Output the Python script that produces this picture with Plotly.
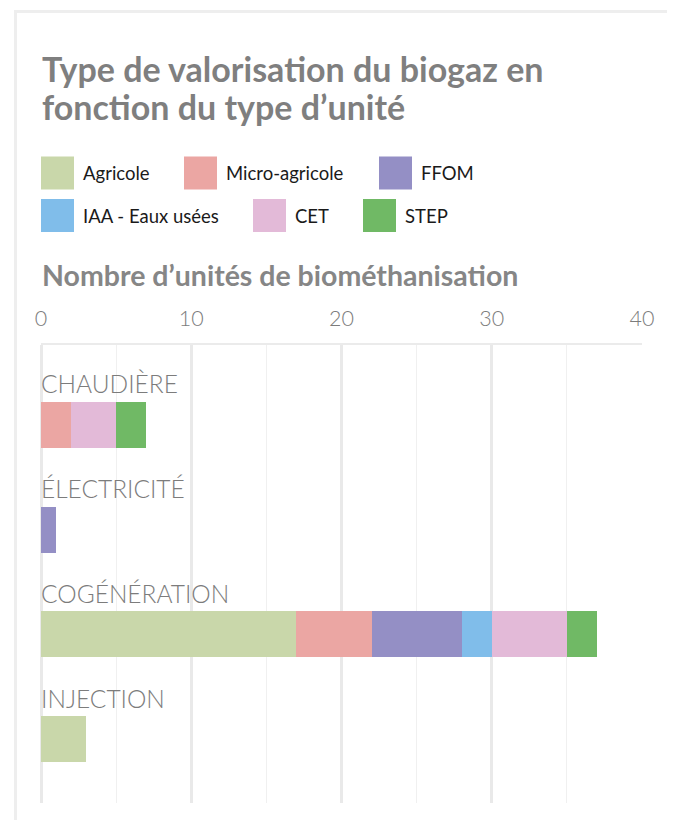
import plotly.graph_objects as go

# ---- data ----
categories = ["CHAUDIÈRE", "ÉLECTRICITÉ", "COGÉNÉRATION", "INJECTION"]
series_names = ["Agricole", "Micro-agricole", "FFOM", "IAA - Eaux usées", "CET", "STEP"]
agricole = [0, 0, 17, 3]
micro_agricole = [2, 0, 5, 0]
ffom = [0, 1, 6, 0]
iaa_eaux_usees = [0, 0, 2, 0]
cet = [3, 0, 5, 0]
step = [2, 0, 2, 0]
series_values = [agricole, micro_agricole, ffom, iaa_eaux_usees, cet, step]
colors = ["#c9d7aa", "#eba6a3", "#948fc5", "#80bdea", "#e3bad8", "#70b965"]
x_ticks = [0, 10, 20, 30, 40]

title_lines = ["Type de valorisation du biogaz en", "fonction du type d’unité"]
axis_title = "Nombre d’unités de biométhanisation"

# ---- layout geometry (screen pixels; page body has an 8px margin) ----
OFF = 8
SW, SH = 675, 828
PL, PR, PT, PB = 41, 642, 345, 803          # plot area in screen px
PW, PH = PR - PL, PB - PT
FIG_W, FIG_H = SW - OFF, SH - 2 * OFF


def px(x):
    return (x - PL) / PW


def py(y):
    return (PB - y) / PH


FONT = "Lato"
GRAY = "#868686"

fig = go.Figure()
for name, vals, col in zip(series_names, series_values, colors):
    fig.add_trace(go.Bar(
        y=categories, x=vals, name=name, orientation="h",
        marker=dict(color=col, line=dict(width=0)),
        showlegend=False,
    ))

shapes = []
annotations = []

# card border
shapes.append(dict(type="line", xref="paper", yref="paper",
                   x0=px(15.5), x1=px(15.5), y0=py(10), y1=py(830),
                   line=dict(color="#eeeeee", width=3)))
shapes.append(dict(type="line", xref="paper", yref="paper",
                   x0=px(14), x1=px(676), y0=py(11.5), y1=py(11.5),
                   line=dict(color="#eeeeee", width=3)))

# title
for txt, yc in zip(title_lines, [68, 106]):
    annotations.append(dict(text=f"<b>{txt}</b>", xref="paper", yref="paper",
                            x=px(40), y=py(yc), xanchor="left", yanchor="middle",
                            showarrow=False,
                            font=dict(family=FONT, size=34, color="#7f7f7f")))

# legend (manual)
legend_pos = [(41, 173), (184, 173), (379, 173), (41, 215.5), (253, 215.5), (363, 215.5)]
for (lx, ly), name, col in zip(legend_pos, series_names, colors):
    shapes.append(dict(type="rect", xref="paper", yref="paper",
                       x0=px(lx), x1=px(lx + 33), y0=py(ly - 16.5), y1=py(ly + 16.5),
                       fillcolor=col, line=dict(width=0)))
    annotations.append(dict(text=name, xref="paper", yref="paper",
                            x=px(lx + 40), y=py(ly), xanchor="left", yanchor="middle",
                            showarrow=False,
                            font=dict(family=FONT, size=18.5, color="#1a1a1a")))

# axis title
annotations.append(dict(text=f"<b>{axis_title}</b>", xref="paper", yref="paper",
                        x=px(40), y=py(275), xanchor="left", yanchor="middle",
                        showarrow=False,
                        font=dict(family=FONT, size=28.5, color=GRAY)))

# category labels
for c in categories:
    annotations.append(dict(text=c, xref="x", yref="y", x=0, y=c,
                            xanchor="left", yanchor="middle", yshift=41, xshift=-2,
                            showarrow=False,
                            font=dict(family=FONT, size=24.5, color="#7c7c7c", weight=300)))

fig.update_layout(
    width=FIG_W, height=FIG_H,
    margin=dict(l=PL - OFF, r=SW - PR, t=PT - OFF, b=OFF + FIG_H - PB, pad=0),
    paper_bgcolor="white", plot_bgcolor="white",
    barmode="stack", bargap=0.56,
    shapes=shapes, annotations=annotations,
    font=dict(family=FONT),
    showlegend=False,
)
fig.update_xaxes(
    range=[0, 40], side="top", tickvals=x_ticks,
    tickfont=dict(family=FONT, size=21.5, color="#7c7c7c", weight=300),
    ticklabelstandoff=8,
    showgrid=True, gridcolor="#e9e9e9", gridwidth=2.5,
    minor=dict(dtick=5, showgrid=True, gridcolor="#f0f0f0", gridwidth=1),
    zeroline=True, zerolinecolor="#e9e9e9", zerolinewidth=3,
    showline=True, linecolor="#ebebeb", linewidth=2, mirror=False,
    ticks="", fixedrange=True,
)
fig.update_yaxes(
    type="category", categoryorder="array", categoryarray=categories,
    range=[3.611, -0.764], showticklabels=False, showgrid=False,
    zeroline=False, showline=False, ticks="",
)

fig.write_html("out.html")
